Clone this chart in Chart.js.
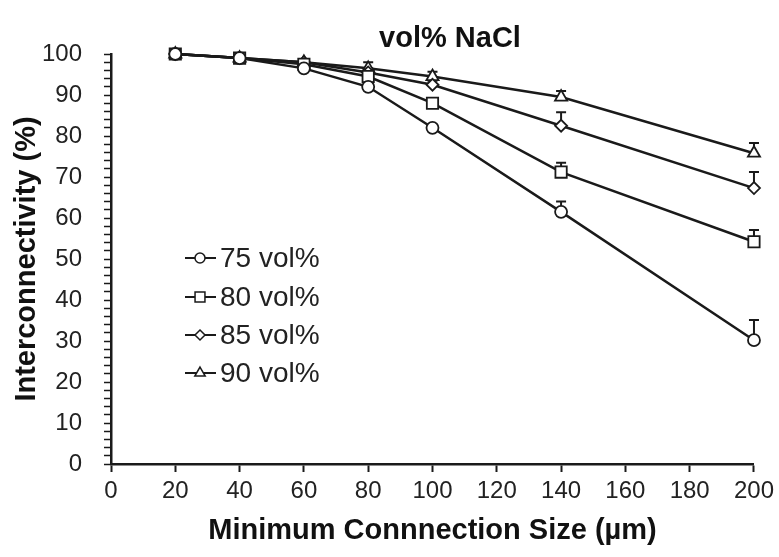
<!DOCTYPE html>
<html><head><meta charset="utf-8">
<script src="https://cdn.jsdelivr.net/npm/chart.js@4.4.1/dist/chart.umd.min.js"></script>
<style>html,body{margin:0;padding:0;background:#fff}#wrap{width:779px;height:557px}</style>
</head><body><div id="wrap"><canvas id="c" width="779" height="557"></canvas></div>
<script>
// ---- data ----
const sizes = [20, 40, 60, 80, 100, 140, 200];
const vol75 = [100, 99, 96.5, 92, 82, 61.5, 30.2];
const vol80 = [100, 99, 97.5, 94.5, 88, 71.2, 54.2];
const vol85 = [100, 99, 98, 95.5, 92.5, 82.5, 67.3];
const vol90 = [100, 99, 98, 96.5, 94.5, 89.5, 75.8];
const err75 = [0.3, 0.5, 0.5, 1, 0.5, 2.5, 4.9];
const err80 = [0.3, 0.5, 0.5, 1, 0.8, 2.3, 2.9];
const err85 = [0.3, 0.5, 0.5, 1, 1, 3.3, 3.9];
const err90 = [0.3, 0.5, 0.5, 1.5, 1.2, 1.5, 2.5];
const seriesLabels = ['75 vol%', '80 vol%', '85 vol%', '90 vol%'];
const titleText = 'vol% NaCl';
const xTitle = 'Minimum Connnection Size (µm)';
const yTitle = 'Interconnectivity (%)';

const values = [vol75, vol80, vol85, vol90];
const errors = [err75, err80, err85, err90];
const styles = ['circle', 'rect', 'rectRot', 'triangle'];
const radii = [6, 8, 6, 7];
const INK = '#1a1a1a';
const FONT = "'Liberation Sans', Arial, sans-serif";

const datasets = values.map((vals, i) => ({
  label: seriesLabels[i],
  data: sizes.map((s, j) => ({x: s, y: vals[j]})),
  borderColor: INK,
  borderWidth: 2.5,
  backgroundColor: '#fff',
  pointStyle: styles[i],
  pointRadius: radii[i],
  pointBorderWidth: 1.8,
  pointBorderColor: INK,
  pointBackgroundColor: '#fff',
  tension: 0,
  fill: false,
  clip: false
}));

function drawMarker(ctx, style, x, y, r) {
  ctx.beginPath();
  if (style === 'circle') {
    ctx.arc(x, y, r, 0, Math.PI * 2);
  } else if (style === 'rect') {
    const s = r * Math.SQRT1_2;
    ctx.rect(x - s, y - s, 2 * s, 2 * s);
  } else if (style === 'rectRot') {
    ctx.moveTo(x, y - r); ctx.lineTo(x + r, y); ctx.lineTo(x, y + r); ctx.lineTo(x - r, y); ctx.closePath();
  } else if (style === 'triangle') {
    ctx.moveTo(x, y - r);
    ctx.lineTo(x + r * 0.866, y + r * 0.5);
    ctx.lineTo(x - r * 0.866, y + r * 0.5);
    ctx.closePath();
  }
  ctx.fillStyle = '#fff';
  ctx.fill();
  ctx.stroke();
}

const errorBars = {
  id: 'errorBars',
  beforeDatasetsDraw(chart) {
    const ctx = chart.ctx, xs = chart.scales.x, ys = chart.scales.y;
    ctx.save();
    ctx.strokeStyle = INK;
    ctx.lineWidth = 2;
    values.forEach((vals, i) => {
      vals.forEach((v, j) => {
        const e = errors[i][j];
        const px = xs.getPixelForValue(sizes[j]);
        const y0 = ys.getPixelForValue(v);
        const y1 = ys.getPixelForValue(v + e);
        ctx.beginPath();
        ctx.moveTo(px, y0); ctx.lineTo(px, y1);
        ctx.moveTo(px - 5, y1); ctx.lineTo(px + 5, y1);
        ctx.stroke();
      });
    });
    ctx.restore();
  }
};

const titleAndLegend = {
  id: 'titleAndLegend',
  afterDraw(chart) {
    const ctx = chart.ctx;
    ctx.save();
    ctx.fillStyle = '#111';
    ctx.font = 'bold 29px ' + FONT;
    ctx.textAlign = 'center';
    ctx.textBaseline = 'middle';
    ctx.fillText(titleText, 450, 39);

    const rows = [258, 297, 335, 373];
    const mr = [5, 7, 5, 6];
    ctx.font = '28px ' + FONT;
    ctx.textAlign = 'left';
    seriesLabels.forEach((lab, i) => {
      const y = rows[i];
      ctx.strokeStyle = INK;
      ctx.lineWidth = 2;
      ctx.beginPath(); ctx.moveTo(185, y); ctx.lineTo(216, y); ctx.stroke();
      ctx.lineWidth = 1.5;
      drawMarker(ctx, styles[i], 200, y, mr[i]);
      ctx.fillStyle = '#222';
      ctx.fillText(lab, 220, y + 1);
    });
    ctx.restore();
  }
};

new Chart(document.getElementById('c'), {
  type: 'line',
  data: {datasets},
  plugins: [errorBars, titleAndLegend],
  options: {
    responsive: false,
    devicePixelRatio: 1,
    animation: false,
    layout: {padding: {left: 0, right: 22, top: 54, bottom: 0}},
    plugins: {
      legend: {display: false},
      tooltip: {enabled: false},
      title: {display: false}
    },
    scales: {
      x: {
        type: 'linear', min: 0, max: 200,
        afterFit(s) { s.height = 93; },
        ticks: {stepSize: 20, color: '#222', font: {family: FONT, size: 24}, padding: 5, maxRotation: 0},
        grid: {drawOnChartArea: false, drawTicks: true, tickLength: 8, tickColor: INK, tickWidth: 2},
        border: {color: INK, width: 2.5},
        title: {display: true, text: xTitle, color: '#111', font: {family: FONT, size: 29, weight: 'bold'}, padding: {top: 2, bottom: 9}}
      },
      y: {
        min: 0, max: 100,
        afterFit(s) { s.width = 111; },
        ticks: {stepSize: 2, autoSkip: false, color: '#222', font: {family: FONT, size: 24}, padding: 22,
          callback: v => (v % 10 === 0 ? String(v) : '')},
        grid: {drawOnChartArea: false, drawTicks: true, tickLength: 7, tickColor: INK, tickWidth: 1.5},
        border: {color: INK, width: 2.5},
        title: {display: true, text: yTitle, color: '#111', font: {family: FONT, size: 29, weight: 'bold'}, padding: {top: 10, bottom: 2}}
      }
    }
  }
});
</script>
</body></html>
